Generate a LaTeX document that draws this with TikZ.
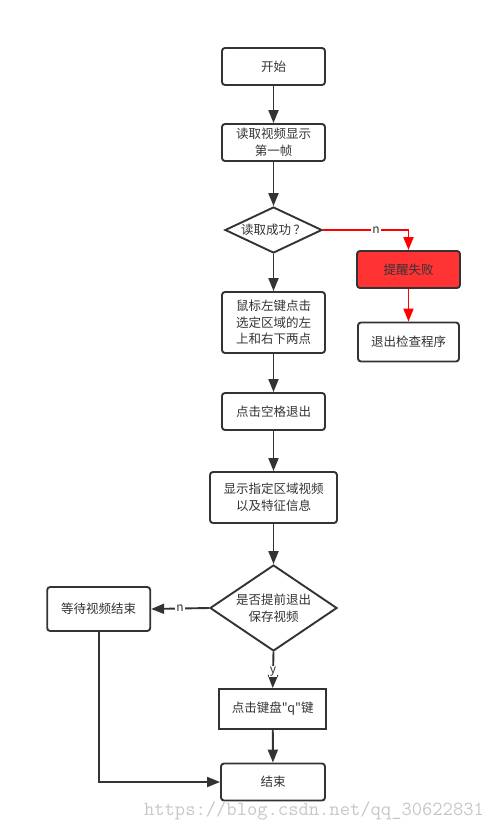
\documentclass[tikz,border=0pt]{standalone}
\usepackage{fontspec}
\setmainfont{Noto Sans CJK SC}
\newfontfamily\plainfont{Noto Sans CJK SC}
\usetikzlibrary{shapes.geometric,arrows.meta}
\definecolor{ink}{HTML}{333333}
\definecolor{alarm}{HTML}{FF3333}
\tikzset{
  box/.style={draw=ink,line width=1.9pt,rounded corners=3pt,align=center,text=ink,inner sep=0pt},
  decide/.style={draw=ink,line width=1.9pt,diamond,align=center,text=ink,inner sep=0pt},
  flow/.style={draw=ink,line width=1.9pt,-{Triangle[length=13pt,width=10pt]}},
  warn/.style={draw=red,line width=1.9pt,-{Triangle[length=13pt,width=10pt]}},
  tag/.style={fill=white,text=ink,inner sep=1pt,font=\fontsize{12}{12}\selectfont}
}
\begin{document}
\begin{tikzpicture}[x=1pt,y=-1pt,font=\fontsize{12.5}{16.7}\selectfont]
\useasboundingbox (0,0) rectangle (492,833);

\node[box,minimum width=103,minimum height=37] (start) at (273.5,66.5) {开始};
\node[box,minimum width=103,minimum height=37] (read) at (273.5,142.5) {读取视频显示\\第一帧};
\node[decide,aspect=2.1,minimum width=97,minimum height=46] (ok) at (273.5,230) {读取成功\,？};
\node[box,fill=alarm,minimum width=103,minimum height=37] (fail) at (408.5,269.5) {提醒失败};
\node[box,minimum width=101,minimum height=39] (quit) at (408.5,342) {退出检查程序};
\node[box,minimum width=103,minimum height=61] (mouse) at (273.5,322.5) {鼠标左键点击\\选定区域的左\\上和右下两点};
\node[box,minimum width=103,minimum height=37] (space) at (273.5,411.5) {点击空格退出};
\node[box,minimum width=127,minimum height=51] (show) at (273.5,497.5) {显示指定区域视频\\以及特征信息};
\node[decide,aspect=1.48,minimum width=127,minimum height=86] (early) at (273.5,608) {是否提前退出\\保存视频};
\node[box,minimum width=103,minimum height=44] (wait) at (98.7,609) {等待视频结束};
\node[box,rounded corners=0pt,minimum width=107,minimum height=40] (key) at (272.7,709) {\plainfont 点击键盘"q"键};
\node[box,minimum width=104,minimum height=37] (end) at (273,782) {结束};
\node[text=black!22,font=\ttfamily\fontsize{20}{20}\selectfont] (mark) at (314,811) {https://blog.csdn.net/qq\_30622831};

\draw[flow] (start) -- (read);
\draw[flow] (read) -- (ok);
\draw[flow] (ok) -- (mouse);
\draw[warn] (ok.east) -| node[tag,pos=0.31] {n} (fail.north);
\draw[warn] (fail) -- (quit);
\draw[flow] (mouse) -- (space);
\draw[flow] (space) -- (show);
\draw[flow] (show) -- (early);
\draw[flow] (early.west) -- node[tag] {n} (wait.east);
\draw[flow] (early.south) -- node[tag,pos=0.55] {y} (key.north);
\draw[flow] (key) -- (end);
\draw[flow] (wait.south) |- (end.west);

\end{tikzpicture}
\end{document}
